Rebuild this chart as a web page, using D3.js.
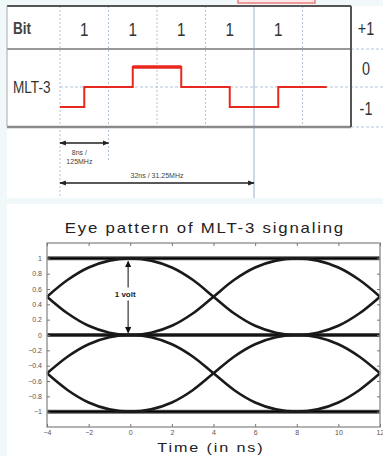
<!DOCTYPE html>
<html>
<head>
<meta charset="utf-8">
<script src="https://cdn.jsdelivr.net/npm/d3@7"></script>
<style>
  html, body { margin: 0; padding: 0; background: #f1f8fa; }
  svg { display: block; }
  .narrow { font-family: "Liberation Sans", Arial, sans-serif; }
  .plain { font-family: "Liberation Sans", Arial, sans-serif; }
</style>
</head>
<body>
<svg id="chart" width="383" height="456"></svg>
<script>
// bit row and MLT-3 levels
const bits = ["1", "1", "1", "1", "1"];
const mltTimes = [0, 0.5, 1.5, 2.5, 3.5, 4.5, 5.5];
const mltLevels = [-1, 0, 1, 0, -1, 0, 0];
const levelLabels = ["+1", "0", "-1"];

// timing arrows (in bit periods)
const spanFrom = [0, 0];
const spanTo = [1, 4];
const spanText = [["8ns /", "125MHz"], ["32ns / 31.25MHz"]];

// eye pattern traces, sampled every 1 ns
const eyeTime = [-4, -3, -2, -1, 0, 1, 2, 3, 4, 5, 6, 7, 8, 9, 10, 11, 12];
const eyeHighToMid = [0.5, 0.72, 0.88, 0.97, 1, 0.97, 0.88, 0.72, 0.5, 0.28, 0.12, 0.03, 0, 0.03, 0.12, 0.28, 0.5];
const eyeMidToHigh = [0.5, 0.28, 0.12, 0.03, 0, 0.03, 0.12, 0.28, 0.5, 0.72, 0.88, 0.97, 1, 0.97, 0.88, 0.72, 0.5];
const eyeMidToLow = [-0.5, -0.28, -0.12, -0.03, 0, -0.03, -0.12, -0.28, -0.5, -0.72, -0.88, -0.97, -1, -0.97, -0.88, -0.72, -0.5];
const eyeLowToMid = [-0.5, -0.72, -0.88, -0.97, -1, -0.97, -0.88, -0.72, -0.5, -0.28, -0.12, -0.03, 0, -0.03, -0.12, -0.28, -0.5];
const eyeHigh = [1, 1, 1, 1, 1, 1, 1, 1, 1, 1, 1, 1, 1, 1, 1, 1, 1];
const eyeMid = [0, 0, 0, 0, 0, 0, 0, 0, 0, 0, 0, 0, 0, 0, 0, 0, 0];
const eyeLow = [-1, -1, -1, -1, -1, -1, -1, -1, -1, -1, -1, -1, -1, -1, -1, -1, -1];

const xTicks = [-4, -2, 0, 2, 4, 6, 8, 10, 12];
const yTicks = [-1, -0.8, -0.6, -0.4, -0.2, 0, 0.2, 0.4, 0.6, 0.8, 1];

const svg = d3.select("#chart");

// text squeezed or stretched horizontally
function scaledText(parent, tx, ty, size, anchor, str, sx) {
  return parent.append("text").attr("class", "narrow")
    .attr("transform", `translate(${tx},${ty}) scale(${sx || 0.8},1)`)
    .attr("font-size", size).attr("fill", "#333")
    .attr("text-anchor", anchor).text(str);
}

// white panels
svg.append("rect").attr("x", 7).attr("y", 6).attr("width", 376).attr("height", 192).attr("fill", "#fff");
svg.append("rect").attr("x", 7).attr("y", 204).attr("width", 376).attr("height", 252).attr("fill", "#fff");
// cut-off box at the very top
svg.append("rect").attr("x", 238).attr("y", -10).attr("width", 77).attr("height", 13)
  .attr("fill", "#fde9e9").attr("stroke", "#ec7b7b").attr("stroke-width", 1.5);

// ---------- top: MLT-3 waveform table ----------
const xBit = d3.scaleLinear().domain([0, 6]).range([60, 351]);
const yLev = d3.scaleLinear().domain([-1, 1]).range([107, 67]);
const tblTop = 6, rowDiv = 49, tblBottom = 127;
const grid = "#b4c4d6";

const tbl = svg.append("g");

// dotted bit boundaries
tbl.selectAll("line.vb")
  .data(d3.range(0, 6))
  .enter().append("line")
  .attr("class", "vb")
  .attr("x1", d => xBit(d)).attr("x2", d => xBit(d))
  .attr("y1", tblTop)
  .attr("y2", d => d === 0 || d === 4 ? 198 : (d === 1 ? 160 : tblBottom))
  .attr("stroke", d => d === 4 ? "#9fb3cc" : grid)
  .attr("stroke-width", 1)
  .attr("stroke-dasharray", d => d === 4 ? null : "2,2");

// dashed zero level and row extensions to the right
tbl.append("line").attr("x1", xBit(0)).attr("x2", 383).attr("y1", yLev(0)).attr("y2", yLev(0))
  .attr("stroke", grid).attr("stroke-width", 1.2).attr("stroke-dasharray", "3,2");
[rowDiv, tblBottom].forEach(yy => {
  tbl.append("line").attr("x1", 351).attr("x2", 383).attr("y1", yy).attr("y2", yy)
    .attr("stroke", grid).attr("stroke-width", 1.2).attr("stroke-dasharray", "3,2");
});

// table frame
tbl.append("line").attr("x1", 7).attr("x2", 351).attr("y1", tblTop).attr("y2", tblTop).attr("stroke", "#555").attr("stroke-width", 2);
tbl.append("line").attr("x1", 7).attr("x2", 351).attr("y1", rowDiv).attr("y2", rowDiv).attr("stroke", "#999").attr("stroke-width", 2);
tbl.append("line").attr("x1", 7).attr("x2", 351).attr("y1", tblBottom).attr("y2", tblBottom).attr("stroke", "#8a8a8a").attr("stroke-width", 2.5);
tbl.append("line").attr("x1", 7).attr("x2", 7).attr("y1", tblTop).attr("y2", tblBottom).attr("stroke", "#aaa").attr("stroke-width", 1);
tbl.append("line").attr("x1", 351).attr("x2", 351).attr("y1", tblTop).attr("y2", tblBottom).attr("stroke", "#555").attr("stroke-width", 2);

// row labels
scaledText(tbl, 13, 34, 17, "start", "Bit").attr("font-weight", "bold").attr("fill", "#444");
scaledText(tbl, 13, 93, 17, "start", "MLT-3");

// bit values
bits.forEach((b, i) => scaledText(tbl, xBit(i + 0.5), 36, 19, "middle", b));

// level labels on the right
levelLabels.forEach((l, i) => scaledText(tbl, 366, [35, 75, 115][i], 18, "middle", l));

// the waveform
const mltPts = mltTimes.map((t, i) => [t, mltLevels[i]]);
const stepLine = d3.line().x(d => xBit(d[0])).y(d => yLev(d[1])).curve(d3.curveStepAfter);
tbl.append("path").attr("d", stepLine(mltPts)).attr("fill", "none")
  .attr("stroke", "#e8281f").attr("stroke-width", 2);
const highPts = mltPts.filter(d => d[1] === 1);
tbl.selectAll("line.high")
  .data(highPts)
  .enter().append("line")
  .attr("x1", d => xBit(d[0])).attr("x2", d => xBit(d[0] + 1))
  .attr("y1", d => yLev(d[1])).attr("y2", d => yLev(d[1]))
  .attr("stroke", "#e8281f").attr("stroke-width", 3.5);

// timing arrows
svg.append("defs").html(
  '<marker id="ah" viewBox="0 0 10 10" refX="9" refY="5" markerWidth="5" markerHeight="5" orient="auto-start-reverse">' +
  '<path d="M0,1 L10,5 L0,9 z" fill="#222"/></marker>' +
  '<marker id="ahb" viewBox="0 0 10 10" refX="9" refY="5" markerWidth="4" markerHeight="4" orient="auto-start-reverse">' +
  '<path d="M0,0 L10,5 L0,10 z" fill="#111"/></marker>');

const spanY = [143, 183];
spanFrom.forEach((s, i) => {
  svg.append("line")
    .attr("x1", xBit(s)).attr("x2", xBit(spanTo[i]))
    .attr("y1", spanY[i]).attr("y2", spanY[i])
    .attr("stroke", "#222").attr("stroke-width", 1.3)
    .attr("marker-start", "url(#ah)").attr("marker-end", "url(#ah)");
});
spanText[0].forEach((t, j) => {
  svg.append("text").attr("class", "plain")
    .attr("x", xBit(0.4)).attr("y", 155 + j * 9)
    .attr("text-anchor", "middle").attr("font-size", 7).attr("fill", "#444")
    .text(t);
});
svg.append("text").attr("class", "plain")
  .attr("x", (xBit(0) + xBit(4)) / 2).attr("y", 178)
  .attr("text-anchor", "middle").attr("font-size", 7).attr("fill", "#444")
  .text(spanText[1][0]);

// ---------- bottom: eye pattern ----------
const plot = { left: 47, right: 380, top: 243, bottom: 427 };
const x = d3.scaleLinear().domain([-4, 12]).range([plot.left, plot.right]);
const y = d3.scaleLinear().domain([-1.2, 1.2]).range([plot.bottom, plot.top]);

scaledText(svg, 204, 233, 14, "middle", "Eye pattern of MLT-3 signaling", 1.2)
  .attr("class", "plain").attr("fill", "#222")
  .attr("textLength", 232).attr("lengthAdjust", "spacing");

const eye = svg.append("g");
const traceLine = d3.line().x((d, i) => x(eyeTime[i])).y(d => y(d)).curve(d3.curveCatmullRom);

// level lines first (thick, blotchy)
[eyeHigh, eyeMid, eyeLow].forEach(tr => {
  eye.append("path").attr("d", traceLine(tr)).attr("fill", "none")
    .attr("stroke", "#555").attr("stroke-width", 4);
  eye.append("path").attr("d", traceLine(tr)).attr("fill", "none")
    .attr("stroke", "#000").attr("stroke-width", 1.6);
});
[eyeHighToMid, eyeMidToHigh, eyeMidToLow, eyeLowToMid].forEach(tr => {
  eye.append("path").attr("d", traceLine(tr)).attr("fill", "none")
    .attr("stroke", "#1a1a1a").attr("stroke-width", 2.6);
});

// axes: box with inward ticks (Matlab style)
svg.append("rect")
  .attr("x", plot.left).attr("y", plot.top)
  .attr("width", plot.right - plot.left).attr("height", plot.bottom - plot.top)
  .attr("fill", "none").attr("stroke", "#9a9a9a").attr("stroke-width", 1.5);

svg.append("g").attr("transform", `translate(0,${plot.bottom})`)
  .call(d3.axisBottom(x).tickValues(xTicks).tickSizeInner(-3).tickSizeOuter(0).tickPadding(3)
    .tickFormat(d => String(d).replace("-", "\u2212")));
svg.append("g").attr("transform", `translate(${plot.left},0)`)
  .call(d3.axisLeft(y).tickValues(yTicks).tickSizeInner(-3).tickSizeOuter(0).tickPadding(5)
    .tickFormat(d => String(d).replace("-", "\u2212")));
svg.append("g").attr("transform", `translate(0,${plot.top})`)
  .call(d3.axisTop(x).tickValues(xTicks).tickSizeInner(-3).tickSizeOuter(0).tickFormat(""));
svg.append("g").attr("transform", `translate(${plot.right},0)`)
  .call(d3.axisRight(y).tickValues(yTicks).tickSizeInner(-3).tickSizeOuter(0).tickFormat(""));

svg.selectAll(".domain").remove();
svg.selectAll(".tick line").attr("stroke", "#777");
svg.selectAll(".tick text").attr("fill", "#555").attr("font-size", 7)
  .attr("font-family", "Liberation Sans, Arial, sans-serif");

// "1 volt" annotation
const ax = x(-0.1);
svg.append("line").attr("x1", ax).attr("x2", ax).attr("y1", y(0.62)).attr("y2", y(0.96))
  .attr("stroke", "#666").attr("stroke-width", 1.6).attr("marker-end", "url(#ahb)");
svg.append("line").attr("x1", ax).attr("x2", ax).attr("y1", y(0.45)).attr("y2", y(0.03))
  .attr("stroke", "#666").attr("stroke-width", 1.6).attr("marker-end", "url(#ahb)");
svg.append("text").attr("class", "plain")
  .attr("x", ax - 3).attr("y", y(0.53) + 3)
  .attr("text-anchor", "middle").attr("font-size", 8).attr("font-weight", "bold").attr("fill", "#222")
  .text("1 volt");

scaledText(svg, 210, 452, 12, "middle", "Time (in ns)", 1.35)
  .attr("class", "plain").attr("fill", "#222")
  .attr("textLength", 78).attr("lengthAdjust", "spacing");
</script>
</body>
</html>
